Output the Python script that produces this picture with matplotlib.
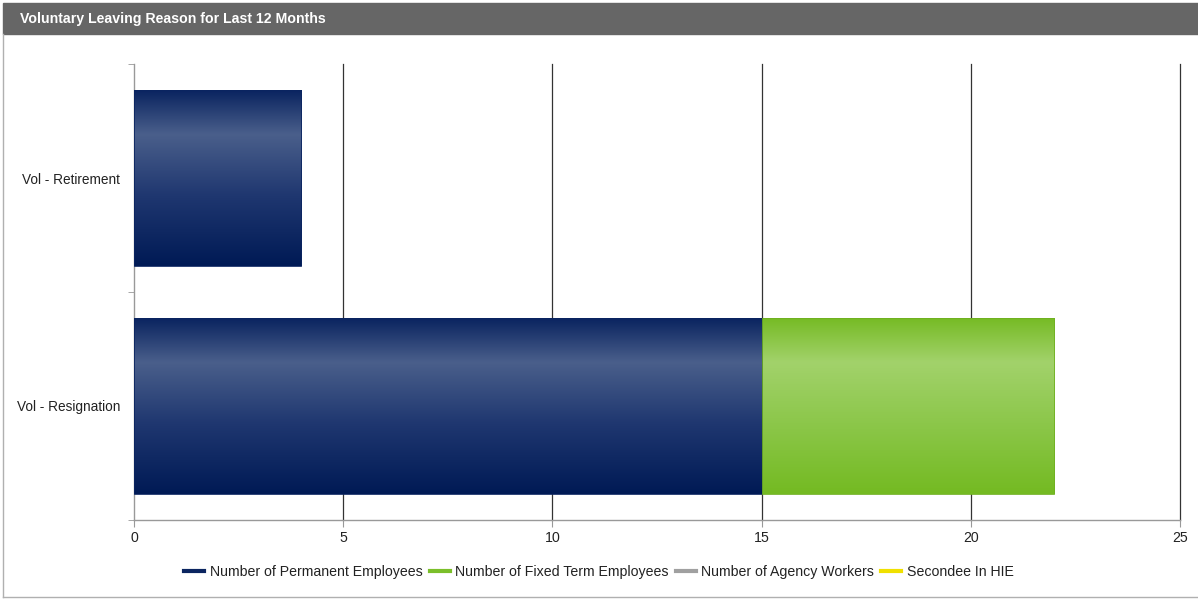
import numpy as np
import matplotlib.pyplot as plt
from matplotlib.patches import Rectangle
from matplotlib.lines import Line2D
from matplotlib.colors import to_rgb

plt.rcParams['font.family'] = ['Liberation Sans', 'DejaVu Sans']

# data
categories = ["Vol - Retirement", "Vol - Resignation"]
permanent = [4, 15]
fixed_term = [0, 7]
agency = [0, 0]
secondee = [0, 0]

series_names = ["Number of Permanent Employees", "Number of Fixed Term Employees",
                "Number of Agency Workers", "Secondee In HIE"]
series_colors = ["#0b2560", "#7bbf2a", "#a0a0a0", "#f0e000"]

# vertical gradient stops (position from top, colour)
navy_stops = [(0.0, "#0a2460"), (0.25, "#4a5f8b"), (0.6, "#1f3770"), (1.0, "#001a55")]
green_stops = [(0.0, "#76bb25"), (0.25, "#a2d26b"), (0.6, "#8cc74a"), (1.0, "#74ba22")]


def gradient_img(stops, n=200):
    t = np.linspace(0, 1, n)
    pos = [s[0] for s in stops]
    cols = np.array([to_rgb(s[1]) for s in stops])
    img = np.stack([np.interp(t, pos, cols[:, k]) for k in range(3)], axis=1)
    return img[:, None, :]


W, H = 1198, 599
fig = plt.figure(figsize=(W / 100, H / 100), dpi=100)

# panel header and border
fig.patches.append(Rectangle((3 / W, 1 - 34 / H), 1 - 3 / W, 31 / H,
                             transform=fig.transFigure, color="#666666", zorder=0))
fig.lines.append(Line2D([3 / W, 3 / W], [1 - 34 / H, 1 - 597 / H],
                        transform=fig.transFigure, color="#b0b0b0", lw=1))
fig.lines.append(Line2D([3 / W, 1], [1 - 597 / H, 1 - 597 / H],
                        transform=fig.transFigure, color="#b0b0b0", lw=1))
fig.text(20 / W, 1 - 18.5 / H, "Voluntary Leaving Reason for Last 12 Months",
         color="white", fontsize=10.2, fontweight="bold", va="center", ha="left")

ax = fig.add_axes([134 / W, 1 - 520 / H, (1180 - 134) / W, (520 - 64) / H])

y = np.arange(len(categories))
bar_h = 0.77
b1 = ax.barh(y, permanent, height=bar_h, color="none", edgecolor="none")
b2 = ax.barh(y, fixed_term, left=permanent, height=bar_h, color="none", edgecolor="none")

for bars, stops, edge in [(b1, navy_stops, "#0a2460"), (b2, green_stops, "#6fb020")]:
    img = gradient_img(stops)
    for p in bars:
        x0, y0 = p.get_x(), p.get_y()
        w, h = p.get_width(), p.get_height()
        if w <= 0:
            continue
        # y axis inverted: top of bar is y0
        ax.imshow(img, extent=[x0, x0 + w, y0 + h, y0], aspect="auto",
                  interpolation="bilinear", zorder=3)
        ax.add_patch(Rectangle((x0, y0), w, h, fill=False, edgecolor=edge,
                               lw=0.6, zorder=4))

ax.set_xlim(0, 25)
ax.set_ylim(-0.5, len(categories) - 0.5)
ax.invert_yaxis()
ax.set_xticks([0, 5, 10, 15, 20, 25])
ax.set_yticks(y)
ax.set_yticklabels(categories)
ax.set_yticks(np.arange(len(categories) + 1) - 0.5, minor=True)
ax.tick_params(axis="y", which="major", length=0, pad=10, labelsize=9.8, labelcolor="#222222")
ax.tick_params(axis="y", which="minor", length=4, color="#999999", direction="out")
ax.tick_params(axis="x", length=5, color="#999999", labelsize=10.2, labelcolor="#222222", pad=3)

# vertical gridlines, drawn unclipped so the one at the right edge stays whole
for xv in [5, 10, 15, 20, 25]:
    ax.axvline(xv, color="#333333", lw=0.9, zorder=1, clip_on=False)
for s in ["top", "right"]:
    ax.spines[s].set_visible(False)
for s in ["left", "bottom"]:
    ax.spines[s].set_color("#999999")
    ax.spines[s].set_linewidth(1)

handles = [Line2D([0], [0], color=c, lw=3) for c in series_colors]
fig.legend(handles, series_names, loc="center", bbox_to_anchor=(0.5, 1 - 572 / H),
           ncol=4, frameon=False, fontsize=10.2, handlelength=1.4, handletextpad=0.4,
           columnspacing=0.5, labelcolor="#222222")

fig.savefig("out.png", dpi=100)
